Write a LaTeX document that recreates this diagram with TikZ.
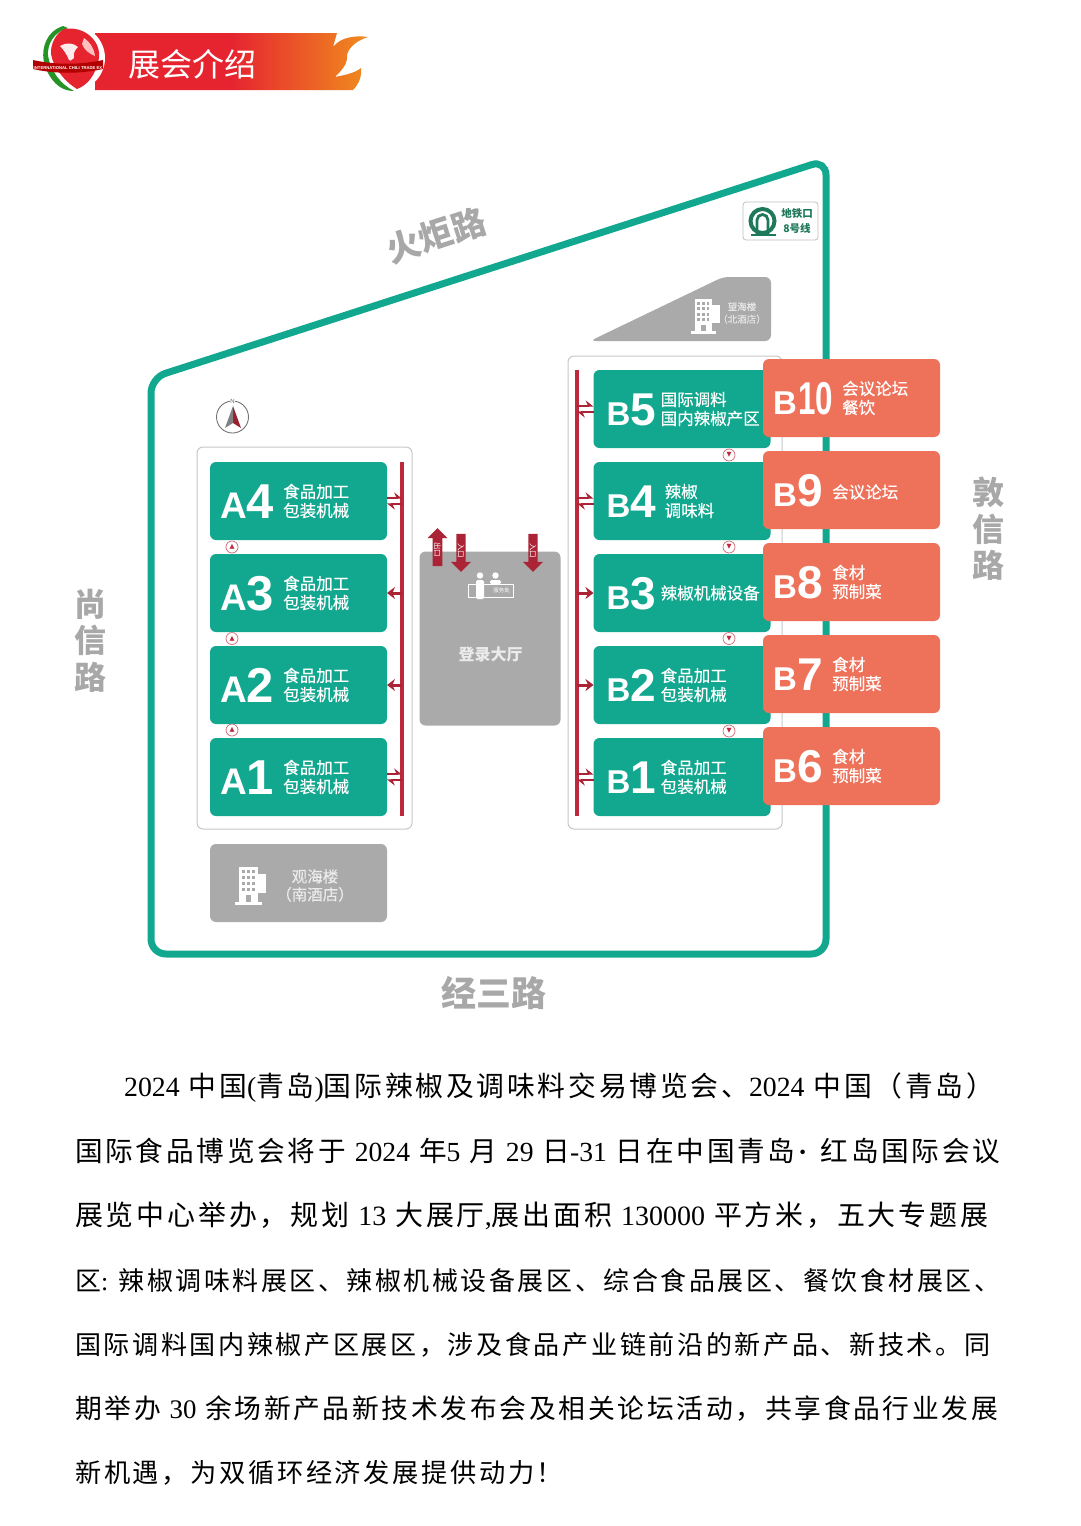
\documentclass[tikz,border=0pt]{standalone}
\usepackage{xcolor}
\usepackage{graphicx}
\usepackage{fontspec}
\usepackage{tikz}
\usetikzlibrary{shapes,arrows.meta,positioning,calc}

\setmainfont{Noto Sans CJK SC}
\newfontfamily\idfont{Liberation Sans}
\newfontfamily\latinfont{Liberation Serif}
\newfontfamily\bodyfont[LetterSpace=10]{Noto Sans CJK SC}
\newfontfamily\hallfont[FakeBold=0.4]{Noto Sans CJK SC}
\newfontfamily\symfont{DejaVu Sans}

\definecolor{hallteal}{RGB}{18,168,143}
\definecolor{hallcoral}{RGB}{238,114,90}
\definecolor{hallgray}{RGB}{170,170,170}
\definecolor{railred}{RGB}{190,40,60}
\definecolor{roadgray}{RGB}{168,168,168}
\definecolor{metrogreen}{RGB}{30,120,90}
\definecolor{bannerred}{RGB}{230,36,48}
\definecolor{bannerorange}{RGB}{240,140,30}

\pgfdeclarehorizontalshading{bannershade}{100bp}{color(0bp)=(bannerred);color(50bp)=(bannerred);color(75bp)=(bannerorange);color(100bp)=(bannerorange)}

\newcommand{\idA}[1]{{\fontsize{37}{37}\selectfont A}{\fontsize{49}{49}\selectfont #1}}
\newcommand{\idB}[1]{{\fontsize{33}{33}\selectfont B}{\fontsize{46}{46}\selectfont #1}}
\newcommand{\ld}[1]{{\latinfont #1}}
\newcommand{\bodyline}[2]{\resizebox{#1pt}{!}{\bodyfont #2}}

\begin{document}
\begin{tikzpicture}[
    x=1pt, y=-1pt,
    node distance=14pt,
    hall/.style={rectangle, fill=hallteal, minimum width=177pt, minimum height=78pt, inner sep=0pt, outer sep=0pt, rounded corners=6pt},
    annex/.style={hall, fill=hallcoral},
    hotel/.style={hall, fill=hallgray},
    panel/.style={draw=black!22, fill=white, line width=1pt, rounded corners=6pt},
    hallid/.style={anchor=base west, inner sep=0pt, text=white, font=\idfont\bfseries},
    halltext/.style={anchor=west, inner sep=0pt, text=white, align=left, font=\hallfont\fontsize{16.5}{19}\selectfont},
    road/.style={text=roadgray, align=center, inner sep=0pt, font=\bfseries\fontsize{32}{36.5}\selectfont},
    rail/.style={draw=railred, line width=3.6pt},
    railarrow/.style={draw=railred!90!black, line width=3pt, -{Stealth[length=8pt, width=12pt]}},
    railin/.style={draw=railred!90!black, line width=1.6pt, transform canvas={yshift=-3pt}, -{Stealth[harpoon, length=7pt, width=11pt]}},
    railout/.style={draw=railred!90!black, line width=1.6pt, transform canvas={yshift=3pt}, -{Stealth[harpoon, length=7pt, width=11pt]}},
    flowmark/.style={circle, draw=railred!70, fill=white, line width=0.7pt, minimum size=12pt, inner sep=0pt, text=railred, font=\symfont\fontsize{6.5}{6.5}\selectfont},
    gate/.style={single arrow, fill=railred!90!black, text=white, rotate=-90, minimum height=38pt, minimum width=20pt, single arrow head extend=4.5pt, inner sep=0.5pt, font=\fontsize{7.5}{7.5}\selectfont},
    bodytext/.style={anchor=base west, inner sep=0pt, text=black, font=\fontsize{25}{25}\selectfont},
    building/.pic={
        \fill[white] (0,0) rectangle (19,35);
        \fill[white] (19,7) rectangle (27,26);
        \fill[white] (-4,35) rectangle (23,38);
        \foreach \r in {0,1,2,3}
            \foreach \c in {0,1,2}
                \fill[hallgray] (2.5+5*\c,3+6*\r) rectangle (5.5+5*\c,6+6*\r);
        \fill[hallgray] (7,28) rectangle (12,35);
    }
]
\useasboundingbox (0,0) rectangle (1080,1526);

\path[shade, shading=bannershade] (95,33) -- (337,33) -- (333,47) .. controls (340,38) and (353,35) .. (368,37) .. controls (355,41) and (346,50) .. (347,58) .. controls (347,65) and (340,72) .. (335,77) .. controls (345,75) and (355,73) .. (361,68) .. controls (362,76) and (359,84) .. (353,90) -- (95,90) -- cycle;
\node[text=white, font=\fontsize{32}{32}\selectfont, inner sep=0pt] (title) at (192,64) {展会介绍};

\fill[white] (72,58) circle (33pt);
\fill[green!50!black!85] (63,26) .. controls (44,32) and (38,55) .. (48,73) .. controls (54,84) and (62,91) .. (74,91) .. controls (60,84) and (51,71) .. (48,56) .. controls (47,44) and (54,32) .. (68,28) -- cycle;
\fill[bannerred] (64,29) .. controls (86,25) and (104,44) .. (98,62) .. controls (95,75) and (88,85) .. (77,89) .. controls (62,80) and (50,62) .. (51,50) .. controls (52,41) and (57,33) .. (64,29) -- cycle;
\fill[white!75!red] (84,38) .. controls (90,42) and (94,48) .. (95,56) .. controls (90,54) and (84,50) .. (82,44) -- cycle;
\fill[white!92!red] (60,46) .. controls (66,42) and (74,43) .. (78,47) .. controls (75,50) and (73,53) .. (74,58) .. controls (71,60) and (70,62) .. (69,60) .. controls (67,55) and (64,50) .. (60,46) -- cycle;
\fill[red!70!black] (33,60) .. controls (55,65) and (80,65) .. (103,60) -- (103,69) .. controls (80,74) and (55,74) .. (33,69) -- cycle;
\node[text=white, inner sep=0pt, font=\idfont\bfseries\fontsize{4.2}{4.2}\selectfont] (logotext) at (68,68) {INTERNATIONAL CHILI TRADE EX};

\draw[hallteal, line width=7pt, rounded corners=15pt] (151,954) -- (151,378) -- (826,160) -- (826,954) -- cycle;

\node[road, rotate=18, font=\bfseries\fontsize{34}{34}\selectfont] (torch) at (436,235) {火炬路};
\node[road] (shangxin) at (90,640.5) {尚\\信\\路};
\node[road] (dunxin) at (988,529) {敦\\信\\路};
\node[road, font=\bfseries\fontsize{35}{35}\selectfont] (jingsan) at (494,993) {经三路};

\node[draw=black!25, fill=white, rounded corners=3pt, line width=0.8pt, minimum width=75pt, minimum height=38pt, inner sep=0pt] (metro) at (780.5,221) {};
\draw[metrogreen, line width=4pt] (762.5,221) circle (12pt);
\draw[metrogreen, line width=2.8pt] (757,234) -- (757,220) arc[start angle=180, end angle=0, radius=5.5pt] -- (768,234);
\draw[metrogreen, line width=2.4pt] (751,235) -- (776,235);
\node[text=metrogreen, inner sep=0pt, font=\bfseries\fontsize{10.5}{15}\selectfont, align=center] (metrotext) at (797,221) {地铁口\\8号线};

\fill[hallgray, rounded corners=6pt] (590,341) -- (723,277) -- (771,277) -- (771,341) -- cycle;
\pic[scale=0.92] at (695,299) {building};
\node[text=white!90!black, inner sep=0pt, align=center, font=\hallfont\fontsize{9.5}{12.5}\selectfont] (northtext) at (742,313) {望海楼\\（北酒店）};

\draw[black!55, line width=0.9pt] (232.5,417) circle (16pt);
\fill[railred!80!black] (233,406) -- (241,428) -- (233,423) -- cycle;
\fill[black!50] (233,406) -- (225,428) -- (233,423) -- cycle;
\node[fill=white, inner sep=0.3pt, text=black!60, font=\idfont\fontsize{6}{6}\selectfont] (north) at (232.5,401.5) {N};

\draw[panel] (197,447) rectangle (412,829);
\draw[panel] (568,356) rectangle (782,829);

\node[hall] (a4) at (298.5,501) {};
\node[hall, below=of a4] (a3) {};
\node[hall, below=of a3] (a2) {};
\node[hall, below=of a2] (a1) {};

\node[hall] (b5) at (682,409) {};
\node[hall, below=of b5] (b4) {};
\node[hall, below=of b4] (b3) {};
\node[hall, below=of b3] (b2) {};
\node[hall, below=of b2] (b1) {};

\node[annex] (b10) at (851.5,398) {};
\node[annex, below=of b10] (b9) {};
\node[annex, below=of b9] (b8) {};
\node[annex, below=of b8] (b7) {};
\node[annex, below=of b7] (b6) {};

\node[hallid, xshift=10pt, yshift=-17pt] at (a4.west) {\idA{4}};
\node[hallid, xshift=10pt, yshift=-17pt] at (a3.west) {\idA{3}};
\node[hallid, xshift=10pt, yshift=-17pt] at (a2.west) {\idA{2}};
\node[hallid, xshift=10pt, yshift=-17pt] at (a1.west) {\idA{1}};

\node[halltext, xshift=73pt] at (a4.west) {食品加工\\包装机械};
\node[halltext, xshift=73pt] at (a3.west) {食品加工\\包装机械};
\node[halltext, xshift=73pt] at (a2.west) {食品加工\\包装机械};
\node[halltext, xshift=73pt] at (a1.west) {食品加工\\包装机械};

\node[hallid, xshift=13pt, yshift=-16pt] at (b5.west) {\idB{5}};
\node[hallid, xshift=13pt, yshift=-16pt] at (b4.west) {\idB{4}};
\node[hallid, xshift=13pt, yshift=-16pt] at (b3.west) {\idB{3}};
\node[hallid, xshift=13pt, yshift=-16pt] at (b2.west) {\idB{2}};
\node[hallid, xshift=13pt, yshift=-16pt] at (b1.west) {\idB{1}};

\node[halltext, xshift=67pt] at (b5.west) {国际调料\\国内辣椒产区};
\node[halltext, xshift=71pt] at (b4.west) {辣椒\\调味料};
\node[halltext, xshift=67pt] at (b3.west) {辣椒机械设备};
\node[halltext, xshift=67pt] at (b2.west) {食品加工\\包装机械};
\node[halltext, xshift=67pt] at (b1.west) {食品加工\\包装机械};

\node[hallid, xshift=10pt, yshift=-16pt] at (b10.west) {\fontsize{33}{33}\selectfont B\hspace{1pt}\scalebox{0.68}[1]{\fontsize{46}{46}\selectfont 10}};
\node[hallid, xshift=10pt, yshift=-16pt] at (b9.west) {\idB{9}};
\node[hallid, xshift=10pt, yshift=-16pt] at (b8.west) {\idB{8}};
\node[hallid, xshift=10pt, yshift=-16pt] at (b7.west) {\idB{7}};
\node[hallid, xshift=10pt, yshift=-16pt] at (b6.west) {\idB{6}};

\node[halltext, xshift=79pt] at (b10.west) {会议论坛\\餐饮};
\node[halltext, xshift=69pt, yshift=-2pt] at (b9.west) {会议论坛};
\node[halltext, xshift=69pt] at (b8.west) {食材\\预制菜};
\node[halltext, xshift=69pt] at (b7.west) {食材\\预制菜};
\node[halltext, xshift=69pt] at (b6.west) {食材\\预制菜};

\coordinate (railA) at (402,0);
\coordinate (railB) at (577,0);
\draw[rail] (a4.north -| railA) -- (a1.south -| railA);
\draw[rail] (b5.north -| railB) -- (b1.south -| railB);

\draw[railout] (a4.east) -- (a4.east -| railA);
\draw[railin] (a4.east -| railA) -- (a4.east);
\draw[railarrow] (a3.east -| railA) -- (a3.east);
\draw[railarrow] (a2.east -| railA) -- (a2.east);
\draw[railout] (a1.east) -- (a1.east -| railA);
\draw[railin] (a1.east -| railA) -- (a1.east);

\draw[railout] (b5.west -| railB) -- (b5.west);
\draw[railin] (b5.west) -- (b5.west -| railB);
\draw[railout] (b4.west -| railB) -- (b4.west);
\draw[railin] (b4.west) -- (b4.west -| railB);
\draw[railarrow] (b3.west -| railB) -- (b3.west);
\draw[railarrow] (b2.west -| railB) -- (b2.west);
\draw[railout] (b1.west -| railB) -- (b1.west);
\draw[railin] (b1.west) -- (b1.west -| railB);

\node[flowmark] (a43) at (232,547) {▲};
\node[flowmark] (a32) at (232,638.5) {▲};
\node[flowmark] (a21) at (232,730) {▲};
\node[flowmark] (b54) at (729,455) {▼};
\node[flowmark] (b43) at (729,547) {▼};
\node[flowmark] (b32) at (729,638.5) {▼};
\node[flowmark] (b21) at (729,731) {▼};

\node[hotel] (south) at (298.5,883) {};
\pic at (239,867) {building};
\node[text=white!92!black, inner sep=0pt, align=center, font=\hallfont\fontsize{15.5}{18}\selectfont] (southtext) at (315,885.5) {观海楼\\（南酒店）};

\node[hall, fill=hallgray, minimum width=141pt, minimum height=174pt] (lobby) at (490,638.5) {};
\node[text=white!92!black, inner sep=0pt, font=\bfseries\fontsize{16}{16}\selectfont] (lobbytext) at (490.5,654) {登录大厅};
\draw[white, line width=0.8pt] (468,584) rectangle (513,597);
\fill[white] (480,575.5) circle (3.2pt);
\fill[white, rounded corners=1.5pt] (476,580) rectangle (484,599);
\fill[white] (495.5,575.5) circle (3.2pt);
\fill[white, rounded corners=1.5pt] (490,580) rectangle (501,584);
\node[text=white, inner sep=0pt, font=\fontsize{5.5}{5.5}\selectfont] (desk) at (501.5,590.5) {服务处};

\node[gate, shape border rotate=180] (exit) at (437.5,549.5) {出口};
\node[gate] (entry1) at (461,550.5) {入口};
\node[gate] (entry2) at (533,550.5) {入口};

\node[bodytext] (line1) at (124,1096) {\bodyline{870}{\ld{2024} 中国\ld{(}青岛\ld{)}国际辣椒及调味料交易博览会、\ld{2024} 中国（青岛）}};
\node[bodytext] (line2) at (75,1161) {\bodyline{925}{国际食品博览会将于 \ld{2024} 年\ld{5} 月 \ld{29} 日\ld{-31} 日在中国青岛\ld{\textbf{·}}\hspace{12pt}红岛国际会议}};
\node[bodytext] (line3) at (75,1225) {\bodyline{913}{展览中心举办，规划 \ld{13} 大展厅\ld{,}展出面积 \ld{130000} 平方米，五大专题展}};
\node[bodytext] (line4) at (75,1290) {\bodyline{925}{区\ld{:}\hspace{10pt}辣椒调味料展区、辣椒机械设备展区、综合食品展区、餐饮食材展区、}};
\node[bodytext] (line5) at (75,1354) {\bodyline{915}{国际调料国内辣椒产区展区，涉及食品产业链前沿的新产品、新技术。同}};
\node[bodytext] (line6) at (75,1418) {\bodyline{923}{期举办 \ld{30} 余场新产品新技术发布会及相关论坛活动，共享食品行业发展}};
\node[bodytext] (line7) at (75,1482) {\bodyline{488}{新机遇，为双循环经济发展提供动力！}};

\end{tikzpicture}
\end{document}
